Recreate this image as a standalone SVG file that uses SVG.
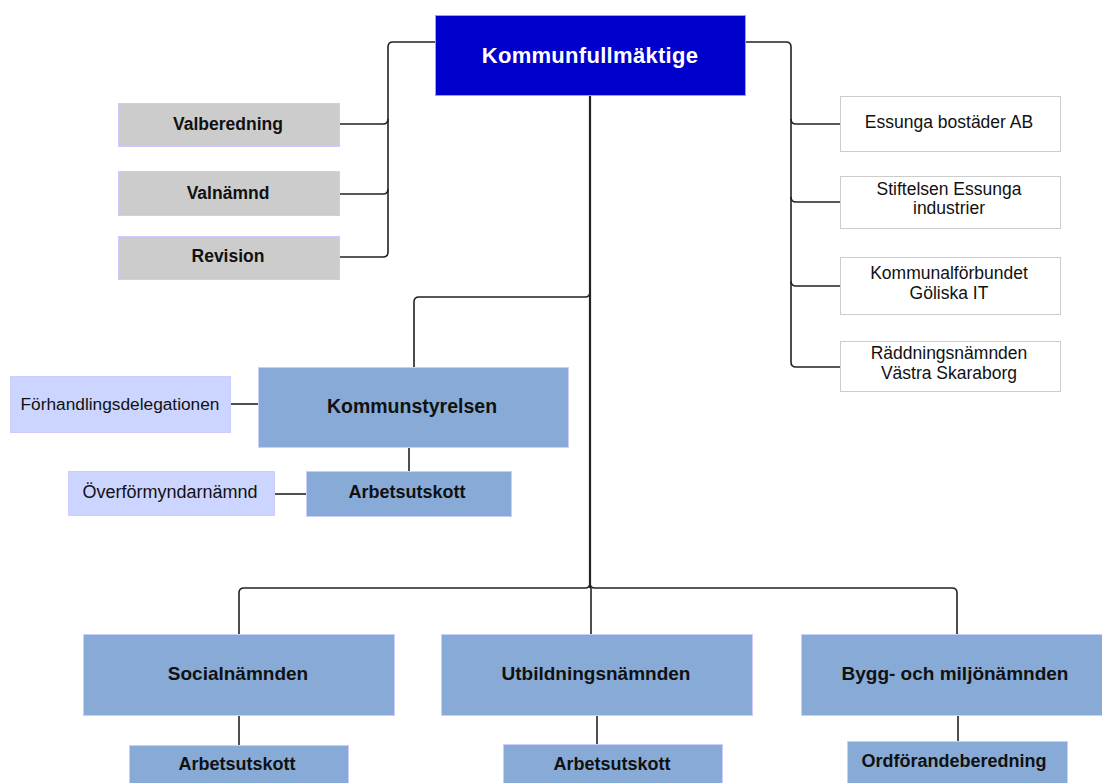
<svg xmlns="http://www.w3.org/2000/svg" width="1102" height="783" viewBox="0 0 1102 783">
<style>
.t{font-family:"Liberation Sans",Arial,sans-serif;fill:#111;text-anchor:middle;dominant-baseline:central}
.b{font-weight:bold}
.kf{fill:#0000cc;stroke:#9a9aff;stroke-width:1}
.gray{fill:#cccccc;stroke:#ccccff;stroke-width:1}
.blue{fill:#87abd6;stroke:#ccccff;stroke-width:1}
.lav{fill:#ccd5ff;stroke:#ccccff;stroke-width:1}
.wht{fill:#ffffff;stroke:#cccccc;stroke-width:1}
.c path{fill:none;stroke:#222;stroke-width:1.6}
</style>
<rect width="1102" height="783" fill="#ffffff"/>
<g class="c" id="connectors">
<path d="M435,42 H393 Q388,42 388,47 V252 Q388,257 383,257 H340"/>
<path d="M388,119 Q388,124 383,124 H340"/>
<path d="M388,189 Q388,194 383,194 H340"/>
<path d="M746,42 H786 Q791,42 791,47 V362 Q791,367 796,367 H840"/>
<path d="M791,119 Q791,124 796,124 H840"/>
<path d="M791,197 Q791,202 796,202 H840"/>
<path d="M791,281 Q791,286 796,286 H840"/>
<path d="M590,96 V588" style="stroke-width:2.2"/>
<path d="M590,292 Q590,297 585,297 H419 Q414,297 414,302 V367"/>
<path d="M590,583 Q590,588 585,588 H244 Q239,588 239,593 V634"/>
<path d="M590,583 Q590,588 595,588 H952 Q957,588 957,593 V634"/>
<path d="M591,588 V634"/>
<path d="M230,404 H258"/>
<path d="M409,447 V471"/>
<path d="M274,494 H306"/>
<path d="M239,716 V745"/>
<path d="M597,716 V744"/>
<path d="M958,716 V742"/>
</g>
<g id="kommunfullmaktige"><rect class="kf" x="435.5" y="15.5" width="310" height="80"/><text class="t b" x="590" y="55" font-size="22" letter-spacing="0.3" style="fill:#ffffff">Kommunfullmäktige</text></g>
<g id="valberedning"><rect class="gray" x="118.5" y="103.5" width="221" height="43"/><text class="t b" x="228" y="124" font-size="17.5">Valberedning</text></g>
<g id="valnamnd"><rect class="gray" x="118.5" y="171.5" width="221" height="44"/><text class="t b" x="228" y="193" font-size="17.5">Valnämnd</text></g>
<g id="revision"><rect class="gray" x="118.5" y="236.5" width="221" height="43"/><text class="t b" x="228" y="256" font-size="17.5">Revision</text></g>
<g id="essunga"><rect class="wht" x="840.5" y="96.5" width="220" height="55"/><text class="t" x="949" y="122" font-size="17.5">Essunga bostäder AB</text></g>
<g id="stiftelsen"><rect class="wht" x="840.5" y="176.5" width="220" height="52"/><text class="t" x="949" y="189" font-size="17.5">Stiftelsen Essunga</text><text class="t" x="949" y="208" font-size="17.5">industrier</text></g>
<g id="kommunalforbundet"><rect class="wht" x="840.5" y="257.5" width="220" height="57"/><text class="t" x="949" y="273" font-size="17.5">Kommunalförbundet</text><text class="t" x="949" y="293" font-size="17.5">Göliska IT</text></g>
<g id="raddningsnamnden"><rect class="wht" x="840.5" y="341.5" width="220" height="50"/><text class="t" x="949" y="353" font-size="17.5">Räddningsnämnden</text><text class="t" x="949" y="373" font-size="17.5">Västra Skaraborg</text></g>
<g id="kommunstyrelsen"><rect class="blue" x="258.5" y="367.5" width="310" height="80"/><text class="t b" x="412" y="406" font-size="19.5">Kommunstyrelsen</text></g>
<g id="forhandlingsdelegationen"><rect class="lav" x="10.5" y="376.5" width="220" height="56"/><text class="t" x="120" y="404" font-size="17.3">Förhandlingsdelegationen</text></g>
<g id="ks-arbetsutskott"><rect class="blue" x="306.5" y="471.5" width="205" height="45"/><text class="t b" x="407" y="492" font-size="18">Arbetsutskott</text></g>
<g id="overformyndarnamnd"><rect class="lav" x="68.5" y="471.5" width="206" height="44"/><text class="t" x="170" y="492" font-size="18">Överförmyndarnämnd</text></g>
<g id="socialnamnden"><rect class="blue" x="83.5" y="634.5" width="311" height="81"/><text class="t b" x="238" y="673" font-size="19">Socialnämnden</text></g>
<g id="utbildningsnamnden"><rect class="blue" x="441.5" y="634.5" width="311" height="81"/><text class="t b" x="596" y="673" font-size="19">Utbildningsnämnden</text></g>
<g id="byggochmiljonamnden"><rect class="blue" x="801.5" y="634.5" width="311" height="81"/><text class="t b" x="955" y="673" font-size="19">Bygg- och miljönämnden</text></g>
<g id="soc-arbetsutskott"><rect class="blue" x="129.5" y="745.5" width="219" height="50"/><text class="t b" x="237" y="764" font-size="18">Arbetsutskott</text></g>
<g id="utb-arbetsutskott"><rect class="blue" x="503.5" y="744.5" width="219" height="50"/><text class="t b" x="612" y="764" font-size="18">Arbetsutskott</text></g>
<g id="ordforandeberedning"><rect class="blue" x="847.5" y="741.5" width="220" height="50"/><text class="t b" x="954" y="761" font-size="18">Ordförandeberedning</text></g>
</svg>
